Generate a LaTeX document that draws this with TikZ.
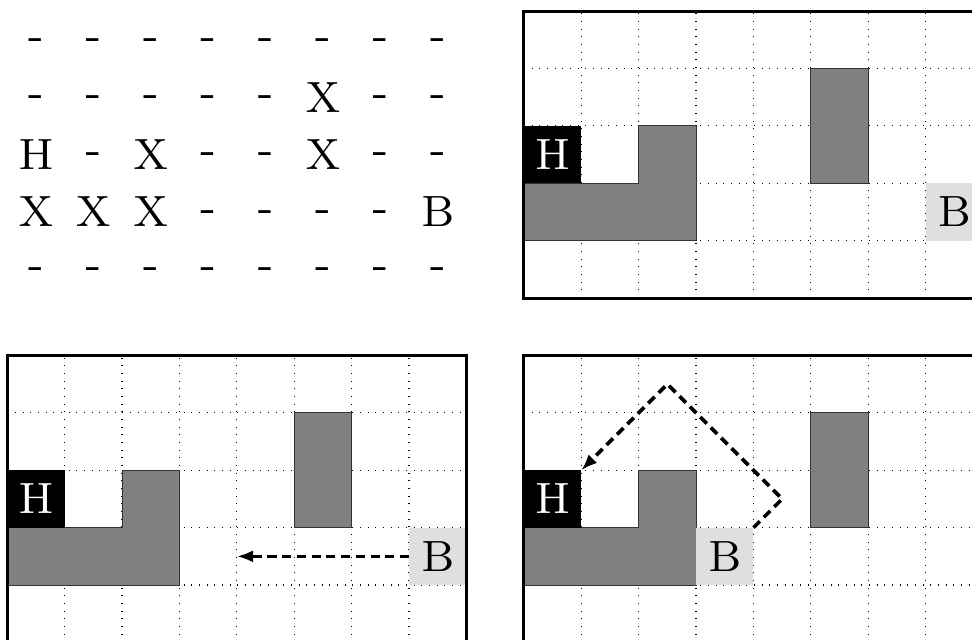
\documentclass[tikz,border=0pt]{standalone}
\usepackage{tikz}
\usetikzlibrary{arrows.meta}
\font\gridfnt=cmr8 at 21.7pt

\begin{document}
\begin{tikzpicture}[>={Latex[length=8pt,width=6pt]}, font=\gridfnt,
   cell/.style={minimum size=1cm, inner sep=0pt, outer sep=0pt},
   home/.style={cell, fill=black, text=white},
   goal/.style={cell, fill=gray!25},
   wall/.style={fill=gray, draw=black!80, line width=0.4pt},
   gridline/.style={line width=0.6pt, dash pattern=on 0.6pt off 3.2pt},
   frame/.style={line width=1.5pt},
   route/.style={->, line width=1.8pt, dash pattern=on 4.5pt off 2.8pt}]
  \useasboundingbox (-0.127,0.044) rectangle (16.807,11.193);

  \foreach \row [count=\r from 0] in {{-,-,-,-,-,-,-,-},{-,-,-,-,-,X,-,-},{H,-,X,-,-,X,-,-},{X,X,X,-,-,-,-,B},{-,-,-,-,-,-,-,-}}
    \foreach \t [count=\c from 0] in \row
      \node (map-\r-\c) at (\c+0.5,10.5-\r) {\t};

  \foreach \px/\py/\p/\bx in {9/6/tr/7.5, 0/0/bl/7.5, 9/0/br/3.5} {
    \begin{scope}[shift={(\px,\py)}]
      \draw[gridline] (0,0) grid (8,5);
      \path[wall] (0,1) -- (3,1) -- (3,3) -- (2,3) -- (2,2) -- (0,2) -- cycle;
      \path[wall] (5,2) rectangle (6,4);
      \node[home] (\p-H) at (0.5,2.5) {H};
      \node[goal] (\p-B) at (\bx,1.5) {B};
      \draw[frame] (0,0) rectangle (8,5);
    \end{scope}
  }

  \coordinate (bl-stop) at (4,1.5);
  \draw[route] (bl-B) -- (bl-stop);
  \coordinate (br-turn) at (13.5,2.5);
  \coordinate (br-top) at (11.5,4.5);
  \draw[route] (br-B.north east) -- (br-turn) -- (br-top) -- (br-H.north east);
\end{tikzpicture}
\end{document}
